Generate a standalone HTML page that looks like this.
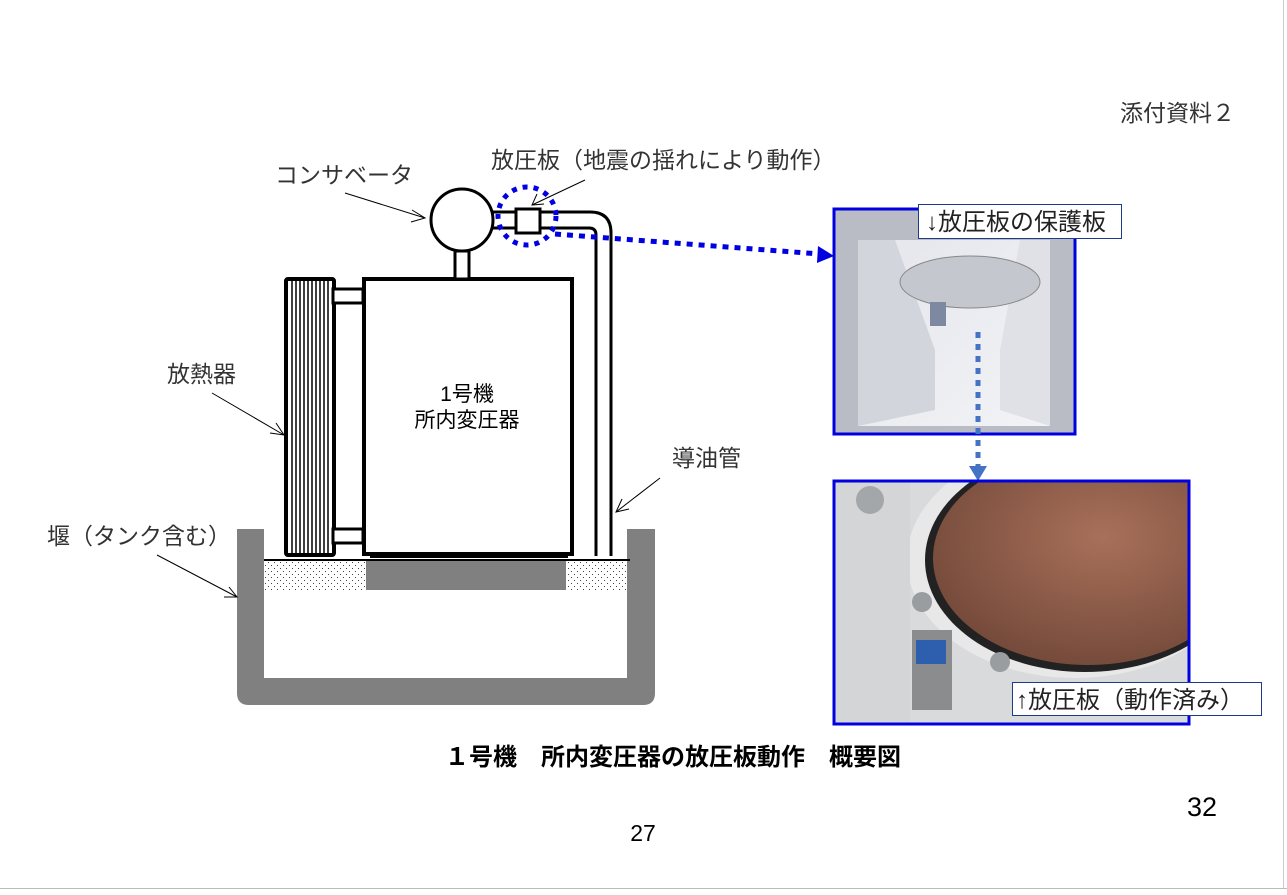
<!DOCTYPE html>
<html><head><meta charset="utf-8"><style>
html,body{margin:0;padding:0;background:#fff;}
body{width:1287px;height:895px;overflow:hidden;position:relative;font-family:"Liberation Sans","Noto Sans CJK JP",sans-serif;}
svg{position:absolute;left:0;top:0;}
svg text{font-family:"Liberation Sans","Noto Sans CJK JP",sans-serif;}
</style></head><body>
<svg width="1287" height="895" viewBox="0 0 1287 895">
<defs>
<pattern id="dots" width="6" height="6" patternUnits="userSpaceOnUse">
<rect width="6" height="6" fill="#fff"/><rect x="1" y="1" width="1" height="1" fill="#444"/><rect x="4" y="4" width="1" height="1" fill="#444"/>
</pattern>
<linearGradient id="p1" x1="0" y1="0" x2="1" y2="1"><stop offset="0" stop-color="#e4e6ec"/><stop offset="1" stop-color="#f2f3f6"/></linearGradient>
<radialGradient id="cu" cx="0.55" cy="0.4" r="0.7"><stop offset="0" stop-color="#a8705a"/><stop offset="1" stop-color="#6e4536"/></radialGradient>
<clipPath id="c2"><rect x="834" y="481" width="355" height="243"/></clipPath>
</defs>
<line x1="0" y1="888.5" x2="1287" y2="888.5" stroke="#bbb"/>
<line x1="1283.5" y1="0" x2="1283.5" y2="888" stroke="#ccc"/>

<!-- tank -->
<path d="M237 529 H264 V678 H627 V529 H655 V693 Q655 705 643 705 H249 Q237 705 237 693 Z" fill="#808080"/>
<rect x="264" y="562" width="102" height="28" fill="url(#dots)"/>
<rect x="566" y="562" width="61" height="28" fill="url(#dots)"/>
<rect x="366" y="560" width="200" height="30" fill="#808080"/>
<line x1="264" y1="560" x2="630" y2="560" stroke="#000" stroke-width="2"/>

<!-- radiator -->
<rect x="286" y="279" width="48" height="276" fill="#fff" stroke="#000" stroke-width="4" rx="2"/>
<g stroke="#000" stroke-width="1.5">
<line x1="292" y1="281" x2="292" y2="553"/><line x1="296" y1="281" x2="296" y2="553"/><line x1="300" y1="281" x2="300" y2="553"/><line x1="304" y1="281" x2="304" y2="553"/><line x1="308" y1="281" x2="308" y2="553"/><line x1="312" y1="281" x2="312" y2="553"/><line x1="316" y1="281" x2="316" y2="553"/><line x1="320" y1="281" x2="320" y2="553"/><line x1="324" y1="281" x2="324" y2="553"/><line x1="328" y1="281" x2="328" y2="553"/>
</g>
<rect x="333" y="289" width="30" height="14" fill="#fff" stroke="#000" stroke-width="3"/>
<rect x="333" y="529" width="30" height="14" fill="#fff" stroke="#000" stroke-width="3"/>

<!-- transformer -->
<rect x="364" y="279" width="208" height="275" fill="#fff" stroke="#000" stroke-width="4"/>
<rect x="370" y="553" width="198" height="5" fill="#000"/>
<text x="467" y="401" font-size="21" text-anchor="middle">1号機</text>
<text x="467" y="427" font-size="21" text-anchor="middle">所内変圧器</text>

<!-- conservator -->
<rect x="455" y="251" width="14" height="28" fill="#fff" stroke="#000" stroke-width="3"/>
<circle cx="462" cy="220" r="31" fill="#fff" stroke="#000" stroke-width="3"/>
<path d="M493 212 H590 Q611 212 611 233 V556" fill="none" stroke="#000" stroke-width="3"/>
<path d="M493 228 H589 Q596 228 596 235 V556" fill="none" stroke="#000" stroke-width="3"/>
<rect x="516" y="209" width="24" height="24" fill="#fff" stroke="#000" stroke-width="3"/>
<circle cx="527" cy="216" r="29" fill="none" stroke="#0000e0" stroke-width="5" stroke-dasharray="5,6"/>
<line x1="555" y1="234" x2="820" y2="254" stroke="#0000e0" stroke-width="5" stroke-dasharray="6,6"/>
<polygon points="834,256 818,246 817,263" fill="#0000e0"/>

<g stroke="#000" stroke-width="1" fill="none">
<line x1="345" y1="193" x2="425" y2="218"/><polyline points="412,210 425,218 411,222"/>
<line x1="585" y1="180" x2="532" y2="205"/><polyline points="537,194 532,205 544,204"/>
<line x1="212" y1="393" x2="284" y2="435"/><polyline points="270,433 284,435 276,423"/>
<line x1="660" y1="478" x2="616" y2="512"/><polyline points="622,499 616,512 629,509"/>
<line x1="157" y1="555" x2="237" y2="597"/><polyline points="224,597 237,597 229,587"/>
</g>

<text x="1120" y="121" font-size="23" fill="#333">添付資料２</text>
<text x="275" y="183" font-size="23" fill="#333">コンサベータ</text>
<text x="491" y="168" font-size="23" fill="#333">放圧板（地震の揺れにより動作）</text>
<text x="167" y="382" font-size="23" fill="#333">放熱器</text>
<text x="672" y="466" font-size="23" fill="#333">導油管</text>
<text x="47" y="544" font-size="23" fill="#333">堰（タンク含む）</text>
<text x="673" y="765" font-size="24" font-weight="bold" text-anchor="middle">１号機　所内変圧器の放圧板動作　概要図</text>
<text x="1202" y="816" font-size="27" text-anchor="middle">32</text>
<text x="643" y="841" font-size="23" text-anchor="middle">27</text>

<!-- photo 1 -->
<rect x="834" y="209" width="241" height="225" fill="#b9bcc4"/>
<rect x="858" y="240" width="192" height="186" fill="url(#p1)"/>
<polygon points="858,240 895,240 935,350 935,410 858,426" fill="#d2d5dc"/>
<polygon points="1050,240 1020,240 1000,350 1000,410 1050,426" fill="#dfe1e6"/>
<ellipse cx="970" cy="282" rx="70" ry="26" fill="#c4c7ce" stroke="#888"/>
<rect x="930" y="302" width="16" height="24" fill="#7d89a0"/>
<rect x="834" y="209" width="241" height="225" fill="none" stroke="#0000e0" stroke-width="3"/>
<rect x="918.5" y="204.5" width="203" height="34" fill="#fff" stroke="#1f3a8a"/>
<text x="926" y="230" font-size="24" fill="#222">↓放圧板の保護板</text>
<line x1="978" y1="332" x2="978" y2="466" stroke="#4472c4" stroke-width="5" stroke-dasharray="6,6"/>
<polygon points="969,466 987,466 978,481" fill="#4472c4"/>

<!-- photo 2 -->
<g clip-path="url(#c2)">
<rect x="834" y="481" width="355" height="243" fill="#d9dadb"/>
<ellipse cx="1075" cy="560" rx="168" ry="118" fill="#e8e8e8"/>
<ellipse cx="1085" cy="560" rx="160" ry="112" fill="#222"/>
<ellipse cx="1088" cy="558" rx="155" ry="107" fill="url(#cu)"/>
<polygon points="834,481 910,481 910,724 834,724" fill="#d4d5d6"/>
<circle cx="870" cy="500" r="14" fill="#a4a7aa"/>
<circle cx="922" cy="602" r="10" fill="#9a9da0"/>
<circle cx="1000" cy="662" r="10" fill="#9a9da0"/>
<rect x="912" y="630" width="40" height="80" fill="#8a8c8e"/>
<rect x="916" y="640" width="30" height="24" fill="#2d5fae"/>
</g>
<rect x="834" y="481" width="355" height="243" fill="none" stroke="#0000e0" stroke-width="3"/>
<rect x="1012.5" y="682.5" width="249" height="33" fill="#fff" stroke="#1f3a8a"/>
<text x="1016" y="708" font-size="24" fill="#222">↑放圧板（動作済み）</text>
</svg>
</body></html>
